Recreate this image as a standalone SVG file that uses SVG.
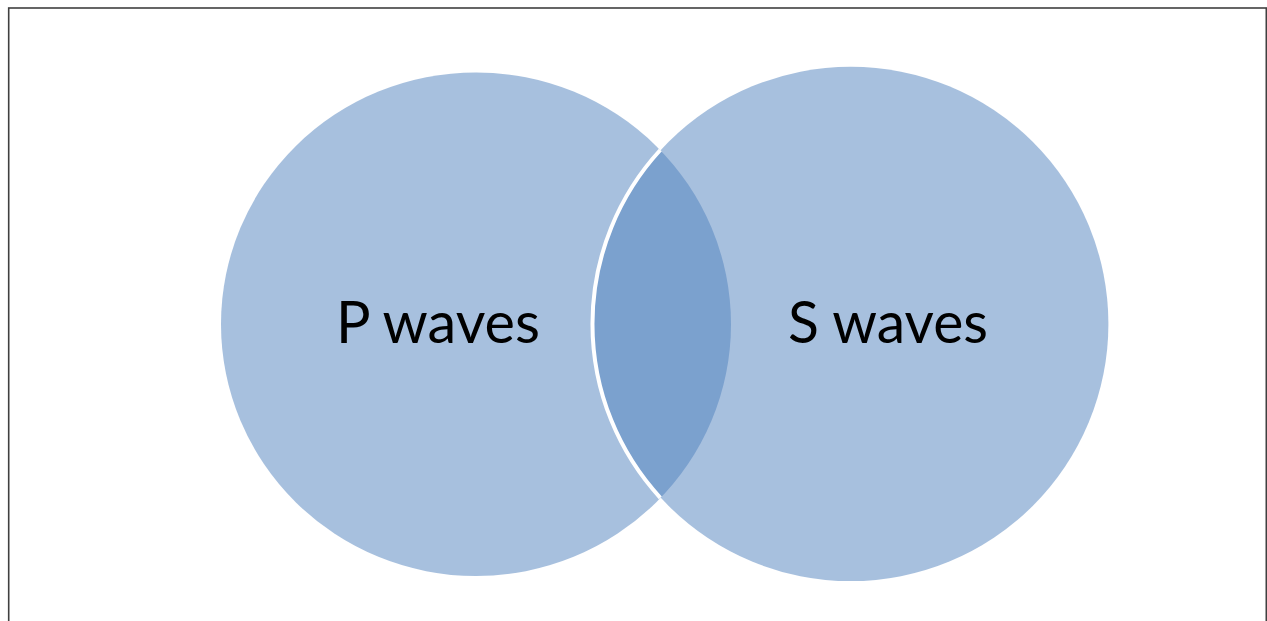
<svg xmlns="http://www.w3.org/2000/svg" width="1267" height="621" viewBox="0 0 1267 621">
  <style>
    .set { fill: #4F81BD; fill-opacity: 0.5; }
    .label { font-family: Lato, "Open Sans", "Liberation Sans", sans-serif; font-size: 59px; fill: #000; text-anchor: middle; }
  </style>
  <rect x="0" y="0" width="1267" height="621" fill="#fff"/>
  <!-- page frame -->
  <rect x="8.7" y="8" width="1257.6" height="700" fill="none" stroke="#404040" stroke-width="1.6"/>
  <g id="p-waves">
    <ellipse class="set" cx="476" cy="324.2" rx="255" ry="251.8"/>
    <text class="label" x="438" y="343" textLength="204" lengthAdjust="spacingAndGlyphs">P waves</text>
  </g>
  <g id="s-waves">
    <ellipse class="set" cx="850.7" cy="323.9" rx="257.7" ry="257.2"/>
    <!-- white rim of the right set where it crosses the left one -->
    <path d="M 660.3 150 A 257.7 257.2 0 0 0 660.3 497.8" fill="none" stroke="#fff" stroke-width="4"/>
    <text class="label" x="888" y="343" textLength="200" lengthAdjust="spacingAndGlyphs">S waves</text>
  </g>
  <g id="connectors"/>
</svg>
